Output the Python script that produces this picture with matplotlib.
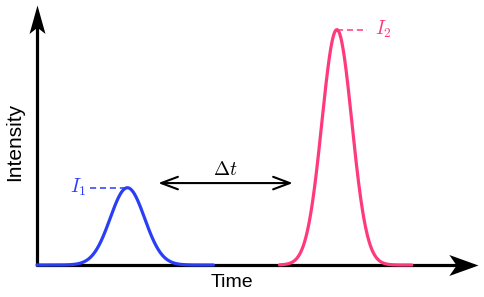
import numpy as np
import matplotlib
matplotlib.use("Agg")
import matplotlib.pyplot as plt
from matplotlib.path import Path

plt.rcParams['font.family'] = ['Liberation Sans', 'DejaVu Sans']
plt.rcParams['mathtext.fontset'] = 'cm'

# peak parameters (time units, intensity units)
peak_names = ['$I_1$', '$I_2$']
peak_centers = [2.05, 6.8]
peak_widths = [0.39, 0.34]
peak_heights = [2.97, 9.05]
peak_ranges = [(0.0, 4.0), (5.5, 8.5)]
peak_colors = ['#2a3ff5', '#ff3a7c']

delta_t_span = [2.75, 5.8]
delta_t_level = 3.15

fig = plt.figure(figsize=(4.85, 2.97), dpi=100)
ax = fig.add_axes([0, 0, 1, 1])
ax.set_xlim(-0.839, 10.159)
ax.set_ylim(-1.231, 10.19)
ax.axis('off')

# stealth arrowheads for the axes (tip at origin)
right_head = Path([(0, 0), (-1, 0.36), (-0.75, 0), (-1, -0.36), (0, 0)],
                  [Path.MOVETO, Path.LINETO, Path.LINETO, Path.LINETO, Path.CLOSEPOLY])
up_head = Path([(0, 0), (0.28, -1), (0, -0.78), (-0.28, -1), (0, 0)],
               [Path.MOVETO, Path.LINETO, Path.LINETO, Path.LINETO, Path.CLOSEPOLY])

ax.plot([-0.03, 9.6], [0, 0], color='black', lw=2.3, solid_capstyle='butt')
ax.plot([0, 0], [-0.05, 9.6], color='black', lw=2.3, solid_capstyle='butt')
ax.plot([10.0], [0], marker=right_head, ms=42, color='black', mew=0)
ax.plot([0], [10.0], marker=up_head, ms=41, color='black', mew=0)

for name, c, w, h, (a, b), col in zip(peak_names, peak_centers, peak_widths,
                                      peak_heights, peak_ranges, peak_colors):
    t = np.linspace(a, b, 400)
    ax.plot(t, h * np.exp(-0.5 * ((t - c) / w) ** 2), color=col, lw=2.3,
            solid_capstyle='round', zorder=3)
    if c < 5:
        ax.plot([c - 0.85, c], [h, h], color=col, lw=1.1, ls=(0, (4, 2.5)))
        ax.text(c - 0.92, h, name, color=col, fontsize=14, ha='right', va='center')
    else:
        ax.plot([c, c + 0.68], [h, h], color=col, lw=1.1, ls=(0, (4, 2.5)))
        ax.text(c + 0.86, h, name, color=col, fontsize=14, ha='left', va='center')

ax.annotate('', xy=(delta_t_span[0], delta_t_level), xytext=(delta_t_span[1], delta_t_level),
            arrowprops=dict(arrowstyle='<->,head_length=1.2,head_width=0.45', lw=1.5,
                            color='black', shrinkA=0, shrinkB=0))
ax.text(sum(delta_t_span) / 2, delta_t_level + 0.15, r'$\Delta t$', fontsize=14,
        ha='center', va='bottom')

ax.text(4.42, -0.69, 'Time', fontsize=14, ha='center', va='center')
ax.text(-0.5, 4.73, 'Intensity', fontsize=15, ha='center', va='center', rotation=90)

fig.savefig('out.png', dpi=100)
